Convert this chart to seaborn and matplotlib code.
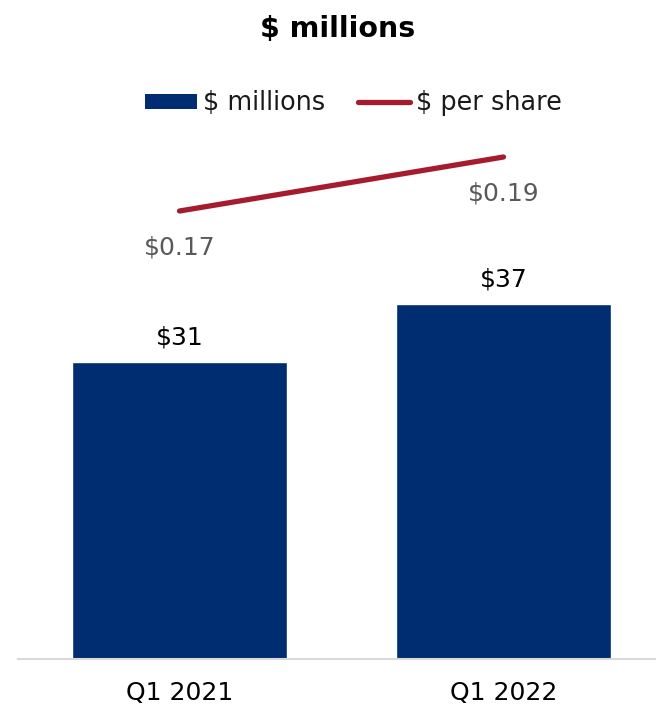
import numpy as np
import pandas as pd
import matplotlib
matplotlib.use("Agg")
import matplotlib.pyplot as plt
from matplotlib.patches import Patch
from matplotlib.lines import Line2D
import seaborn as sns

# Data
quarters = ["Q1 2021", "Q1 2022"]
net_income_millions = [31, 37]
per_share = [0.17, 0.19]
bar_labels = ["$31", "$37"]
eps_labels = ["$0.17", "$0.19"]

NAVY = "#002D72"
RED = "#A51C2E"
GRAY_TEXT = "#595959"

sns.set_style("white")
plt.rcParams["font.family"] = ["DejaVu Sans"]
plt.rcParams["text.parse_math"] = False

fig = plt.figure(figsize=(6.56, 7.10), dpi=100)
W, H = 656, 710
ax = fig.add_axes([18 / W, 51 / H, 638 / W, 529 / H])

df = pd.DataFrame({"quarter": quarters, "millions": net_income_millions})
sns.barplot(data=df, x="quarter", y="millions", color=NAVY, saturation=1,
            width=0.664, ax=ax)
ax.set_ylim(0, 529 / 9.59)
ax.set_xlim(-0.4985, 1.4707)

# Value labels above bars
for i, (v, lab) in enumerate(zip(net_income_millions, bar_labels)):
    ax.annotate(lab, (i, v), xytext=(0, 12.5), textcoords="offset points",
                ha="center", va="baseline", fontsize=18, color="black")

# Per-share line on a secondary axis
ax2 = ax.twinx()
pos = np.arange(len(quarters))
sns.lineplot(x=pos, y=per_share, ax=ax2, color=RED, linewidth=3.8,
             solid_capstyle="round")
ax2.set_ylim(0.0041, 0.2)
for x, v, lab in zip(pos, per_share, eps_labels):
    ax2.annotate(lab, (x, v), xytext=(0, -31.5), textcoords="offset points",
                 ha="center", va="baseline", fontsize=18, color=GRAY_TEXT)

for a in (ax, ax2):
    for s in ("top", "right", "left"):
        a.spines[s].set_visible(False)
    a.set_yticks([])
    a.set_ylabel("")
ax2.spines["bottom"].set_visible(False)
ax.spines["bottom"].set_color("#D9D9D9")
ax.spines["bottom"].set_linewidth(1.5)
ax.set_xlabel("")
ax.tick_params(axis="x", length=0, pad=15.5, labelsize=18, labelcolor="black")

# Title
fig.text(338 / W, 1 - 37 / H, "$ millions", ha="center", va="baseline",
         fontsize=20.5, fontweight="bold", color="black")

# Legend
handles = [Patch(facecolor=NAVY, edgecolor="none"),
           Line2D([0], [0], color=RED, linewidth=3.8, solid_capstyle="round")]
fig.legend(handles, ["$ millions", "$ per share"], loc="center",
           bbox_to_anchor=(353.5 / W, 1 - 103.5 / H), ncol=2, frameon=False,
           fontsize=18.4, handlelength=2.03, handleheight=0.55,
           handletextpad=0.23, columnspacing=1.29, labelcolor="#1A1A1A")

fig.savefig("out.png", dpi=100)
